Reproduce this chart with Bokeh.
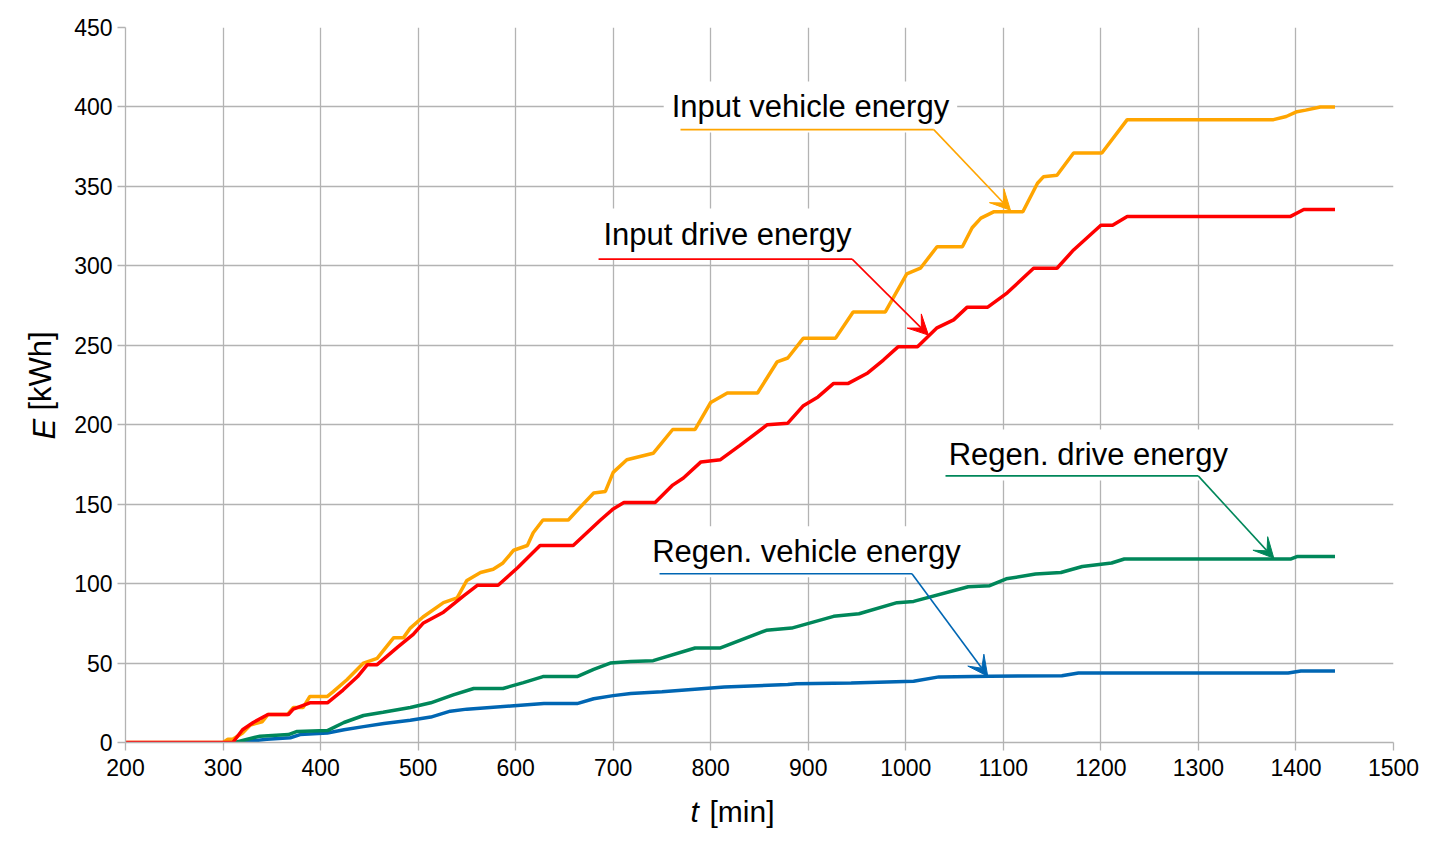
import math
from bokeh.plotting import figure
from bokeh.models import Range1d, FixedTicker, Label, Arrow, VeeHead
from bokeh.embed import file_html
from bokeh.resources import INLINE

# ---- data ----
t_vehicle_in = [200, 300, 305, 310, 320, 328, 340, 346, 366, 372, 382, 389, 407, 413, 427, 444, 458, 475, 485, 492,
                505, 526, 540, 550, 564, 577, 587, 598, 612, 618, 628, 654, 666, 680, 692, 700, 714, 741, 761, 784,
                800, 817, 848, 868, 879, 895, 928, 946, 979, 1001, 1015, 1032, 1058, 1068, 1077, 1090, 1120, 1135,
                1141, 1155, 1172, 1201, 1227, 1377, 1390, 1401, 1410, 1425, 1440]
e_vehicle_in = [0, 0, 2, 2, 6, 11, 13, 17.6, 17.6, 22, 22, 29, 29, 32, 39.5, 50, 53, 66, 66, 72,
                79, 88, 91, 102, 107, 109, 113, 121, 124, 132, 140, 140, 148, 157, 158, 170, 178, 182, 197, 197,
                214, 220, 220, 239.5, 242, 254.5, 254.5, 271, 271, 295, 298.5, 312, 312, 324, 330, 334, 334, 352,
                356, 357, 371, 371, 392, 392, 394, 397, 398, 400, 400]

t_drive_in = [200, 310, 320, 331, 346, 367, 372, 389, 407, 423, 438, 448, 458, 479, 495, 505, 526, 546, 561, 582,
              602, 625, 659, 687, 700, 711, 743, 761, 772, 790, 810, 830, 858, 879, 895, 910, 926, 941, 961, 977,
              992, 1012, 1032, 1049, 1063, 1084, 1104, 1131, 1155, 1172, 1200, 1212, 1227, 1394, 1408, 1440]
e_drive_in = [0, 0, 8, 12.6, 17.6, 17.6, 21, 25, 25, 33, 41.5, 49, 49, 60, 68, 75, 82, 92, 99, 99,
              110, 124, 124, 140, 147, 151, 151, 162, 166.5, 176.6, 178, 187, 200, 201, 212, 217.5, 226, 226, 232.6, 240.7,
              249, 249, 261, 266, 274, 274, 283, 298.5, 298.5, 310, 325.5, 325.5, 331, 331, 335.5, 335.5]

t_drive_regen = [312, 325, 338, 367, 376, 407, 424, 444, 464, 492, 513, 536, 557, 587, 608, 628, 663, 680, 697, 718,
                 741, 784, 810, 857, 883, 926, 952, 991, 1008, 1064, 1086, 1103, 1133, 1159, 1181, 1211, 1224, 1395,
                 1401, 1440]
e_drive_regen = [0, 2, 4, 5, 7, 7.5, 12.6, 17, 19, 22, 25, 30, 34, 34, 37.7, 41.5, 41.5, 46, 50, 51,
                 51.5, 59.5, 59.5, 70.6, 72, 79.4, 81, 88, 88.8, 98, 98.7, 103, 106, 107, 110.8, 113, 115.5, 115.5,
                 117, 117]

t_vehicle_regen = [314, 345, 369, 379, 407, 424, 444, 465, 492, 513, 533, 550, 595, 629, 663, 680, 700, 718, 750,
                   814, 879, 888, 944, 1008, 1034, 1086, 1160, 1177, 1392, 1405, 1440]
e_vehicle_regen = [0, 2, 3, 5, 6, 8, 10, 12, 14, 16, 19.7, 21, 23, 24.5, 24.5, 27.5, 29.5, 30.8, 32,
                   35, 36.5, 37, 37.5, 38.5, 41.3, 41.7, 42, 43.8, 43.8, 45, 45]

x_ticks = [200, 300, 400, 500, 600, 700, 800, 900, 1000, 1100, 1200, 1300, 1400, 1500]
y_ticks = [0, 50, 100, 150, 200, 250, 300, 350, 400, 450]

# annotation texts and callout geometry
ann_text = ["Input vehicle energy", "Input drive energy", "Regen. drive energy", "Regen. vehicle energy"]
ann_label_x = [751.8, 681.8, 1035.8, 731.8]
ann_label_y = [400, 320, 181, 120]
ann_line_x0 = [769, 685, 1040.7, 747.5]
ann_line_x1 = [1028.7, 945, 1299.8, 1006.3]
ann_line_y = [385.7, 304.2, 167.8, 106.2]
ann_tip_x = [1107.3, 1023.2, 1377.3, 1084]
ann_tip_y = [335, 256.4, 116, 41.7]

C_ORANGE = "#ffa500"
C_RED = "#ff0000"
C_GREEN = "#00875a"
C_BLUE = "#0066b3"
ann_colors = [C_ORANGE, C_RED, C_GREEN, C_BLUE]

GRID = "#b3b3b3"
FONT = "Liberation Sans"

p = figure(width=1434, height=844, output_backend="svg", toolbar_location=None,
           x_range=Range1d(200, 1500), y_range=Range1d(0, 450),
           min_border_left=125, min_border_right=41, min_border_top=27, min_border_bottom=101)
p.outline_line_color = None
p.background_fill_color = "white"

for ax in (p.xaxis[0], p.yaxis[0]):
    ax.axis_line_color = GRID
    ax.axis_line_width = 1.3
    ax.major_tick_line_color = GRID
    ax.major_tick_line_width = 1.3
    ax.major_tick_out = 8
    ax.major_tick_in = 0
    ax.minor_tick_line_color = None
    ax.major_label_text_font = FONT
    ax.major_label_text_font_size = "23px"
    ax.major_label_text_color = "black"
p.xaxis.major_label_standoff = 8
p.yaxis.major_label_standoff = 5
p.xaxis.ticker = FixedTicker(ticks=x_ticks)
p.yaxis.ticker = FixedTicker(ticks=y_ticks)

for g in (p.xgrid[0], p.ygrid[0]):
    g.grid_line_color = GRID
    g.grid_line_width = 1.3
p.xgrid.ticker = FixedTicker(ticks=x_ticks)
p.ygrid.ticker = FixedTicker(ticks=y_ticks)

LW = 3.5
p.line(t_vehicle_regen, e_vehicle_regen, line_color=C_BLUE, line_width=LW)
p.line(t_drive_regen, e_drive_regen, line_color=C_GREEN, line_width=LW)
p.line(t_vehicle_in, e_vehicle_in, line_color=C_ORANGE, line_width=LW)
p.line(t_drive_in, e_drive_in, line_color=C_RED, line_width=LW)

# callouts: white-boxed text, then underline and arrow drawn on top
for i in range(len(ann_text)):
    p.add_layout(Label(x=ann_label_x[i], y=ann_label_y[i], text=ann_text[i],
                       text_font=FONT, text_font_size="31px", text_color="black",
                       text_align="left", text_baseline="middle",
                       background_fill_color="white", padding=8))
for i in range(len(ann_text)):
    c = ann_colors[i]
    p.add_layout(Arrow(x_start=ann_line_x0[i], y_start=ann_line_y[i], x_end=ann_line_x1[i], y_end=ann_line_y[i],
                       line_color=c, line_width=1.6, end=None))
    p.add_layout(Arrow(x_start=ann_line_x1[i], y_start=ann_line_y[i], x_end=ann_tip_x[i], y_end=ann_tip_y[i],
                       line_color=c, line_width=1.6,
                       end=VeeHead(size=20, fill_color=c, line_color=c, line_width=1)))

# axis titles (italic symbol + upright unit) placed in the side panels
p.add_layout(Label(x=565, y=0, x_units="screen", y_units="screen", text="t", text_font=FONT,
                   text_font_size="30px", text_font_style="italic", text_color="black",
                   text_align="left", text_baseline="middle"),
             "below")
p.add_layout(Label(x=584, y=33, x_units="screen", y_units="screen", text="[min]", text_font=FONT,
                   text_font_size="30px", text_color="black", text_align="left", text_baseline="middle"),
             "below")
p.add_layout(Label(x=8, y=303, x_units="screen", y_units="screen", text="E", text_font=FONT,
                   text_font_size="31px", text_font_style="italic", text_color="black",
                   text_align="left", text_baseline="middle", angle=math.pi / 2),
             "left")
p.add_layout(Label(x=39, y=332, x_units="screen", y_units="screen", text="[kWh]", text_font=FONT,
                   text_font_size="31px", text_color="black", text_align="left", text_baseline="middle",
                   angle=math.pi / 2),
             "left")

open("out.html", "w").write(file_html(p, INLINE))
